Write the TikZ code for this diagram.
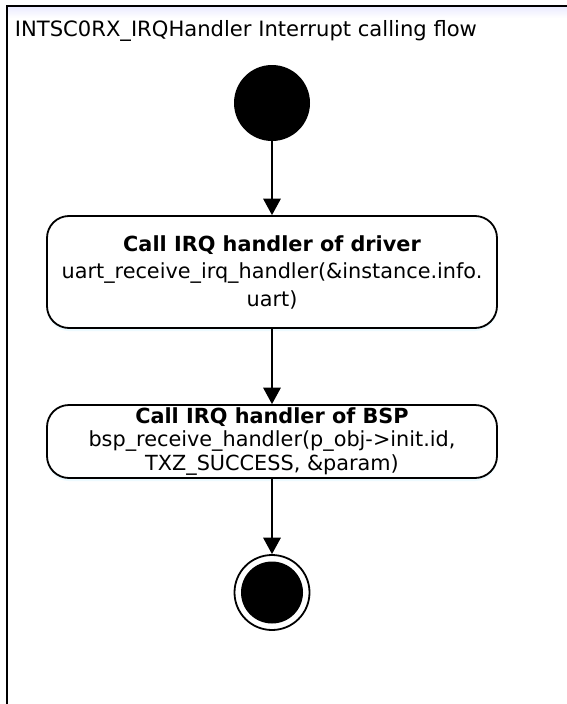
\documentclass[tikz,border=0pt]{standalone}
\usepackage{fontspec}
\setmainfont{DejaVu Sans}
\usetikzlibrary{arrows.meta,shadows}
\tikzset{
  flowbox/.style={draw, line width=1.8pt, rounded corners=22pt, fill=white,
    minimum width=450pt, inner sep=0pt, align=center,
    drop shadow={shadow xshift=0pt, shadow yshift=-3pt, fill=blue!25!cyan!15, opacity=0.45}},
  startdot/.style={circle, fill=black, minimum size=76pt, inner sep=0pt},
  endring/.style={circle, draw, line width=1.8pt, fill=white, minimum size=75pt, inner sep=0pt},
  flowarrow/.style={line width=1.8pt, -{Triangle[width=17.5pt,length=16.5pt]}},
}
\begin{document}
\begin{tikzpicture}[x=1pt,y=-1pt]
\useasboundingbox (0,0) rectangle (567,704);
\clip (0,0) rectangle (567,704);
\fill[white] (0,0) rectangle (567,704);
% faint shade under the frame top
\shade[top color=blue!8, bottom color=white] (7,6) rectangle (567,18);
% frame
\draw[line width=2pt] (7,720) -- (7,5.5) -- (580,5.5);
% title
\node[anchor=base west, inner sep=0pt, font=\fontsize{21.1}{25}\selectfont] (title) at (14.7,36.7)
  {INTSC0RX\_IRQHandler Interrupt calling flow};
% nodes
\node[startdot] (start) at (272,103) {};
\node[flowbox, minimum height=112pt, font=\fontsize{20.8}{27.5}\selectfont] (drv) at (272,272)
  {\textbf{Call IRQ handler of driver}\\uart\_receive\_irq\_handler(\&instance.info.\\uart)};
\node[flowbox, minimum height=73pt, font=\fontsize{20.8}{23.5}\selectfont] (bsp) at (272,441.5)
  {\textbf{Call IRQ handler of BSP}\\bsp\_receive\_handler(p\_obj->init.id,\\TXZ\_SUCCESS, \&param)};
\node[endring] (end) at (272,592.5) {};
\fill[black] (end.center) circle [radius=31pt];
% connectors
\draw[flowarrow] (start) -- (drv);
\draw[flowarrow] (drv) -- (bsp);
\draw[flowarrow] (bsp) -- (end);
\end{tikzpicture}
\end{document}
